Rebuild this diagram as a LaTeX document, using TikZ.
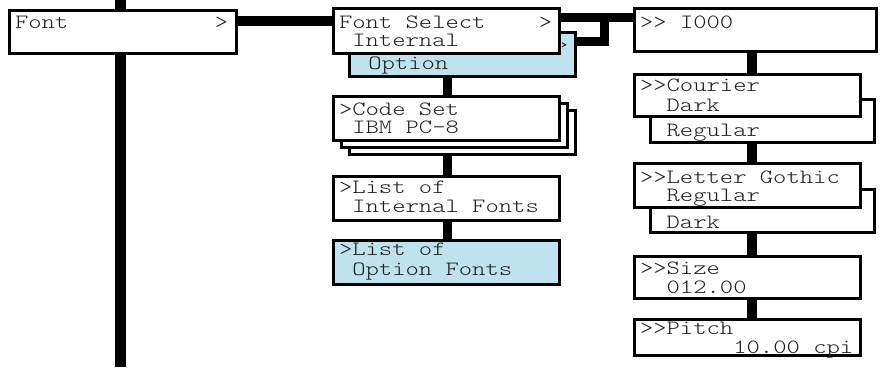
\documentclass[tikz,border=0pt]{standalone}
\usepackage{fontspec}
\newfontfamily\monofont{lmmonolt10-regular.otf}[FakeStretch=1.25]
\usetikzlibrary{calc}
\definecolor{optblue}{RGB}{191,227,238}
\definecolor{txtgray}{RGB}{30,30,30}
\newcommand\mybox[6][]{\node[boxst,#1,minimum width={#4-#2-3},minimum height={#5-#3-3}] (#6) at ({(#2+#4)/2},{(#3+#5)/2}) {};}
\tikzset{
  boxst/.style={draw=black,line width=3pt,fill=white,rectangle,inner sep=0pt,outer sep=0pt},
  bluebox/.style={fill=optblue},
  txt/.style={anchor=base west,inner sep=0pt,outer sep=0pt,text=txtgray,font=\monofont\fontsize{20.3}{19}\selectfont},
  bar/.style={line width=10pt,draw=black,line cap=butt,line join=miter},
}
\begin{document}
\begin{tikzpicture}[x=1pt,y=-1pt]
\def\a{13.33}
\useasboundingbox (0,0) rectangle (880,367);
% coordinates for connectors
\coordinate (ftop) at (120.5,0);
\coordinate (fbot) at (120.5,367);
\coordinate (ya) at (0,21);
\coordinate (yb) at (0,17);
\coordinate (jv) at (604,17);
\coordinate (jl) at (604,41.7);
\coordinate (mx) at (447.5,0);
\coordinate (rx) at (752,0);
% boxes (back ones first)
\mybox[bluebox]{348}{31}{577}{78}{opt}
\mybox{348}{109}{577}{156}{csc}
\mybox{340}{102}{569}{149}{csb}
\mybox{649}{98}{876}{144}{courb}
\mybox{649}{188}{876}{234}{lgb}
% connectors behind front boxes
\draw[bar,line width=11pt] (ftop) -- (fbot);
\draw[bar] (ya -| 237,0) -- (ya -| 333,0);
\draw[bar,line width=9pt] (yb -| 560,0) -- (yb -| 634,0);
\draw[bar,line width=9pt] (jl -| opt.east) -- (jl) -- (jv);
\draw[bar,line width=9pt] (mx |- opt.south) -- (mx |- 96,96);
\draw[bar,line width=9pt] (mx |- csc.south) -- (mx |- 176,176);
\draw[bar,line width=9pt] (mx |- 220,220) -- (mx |- 240,240);
\draw[bar] (rx |- 0,52) -- (rx |- 0,74);
\draw[bar] (rx |- courb.south) -- (rx |- 0,163);
\draw[bar] (rx |- lgb.south) -- (rx |- 0,256);
\draw[bar] (rx |- 0,299) -- (rx |- 0,319);
% front boxes
\mybox{8}{9}{238}{55}{fontb}
\mybox{332}{7}{561}{55}{fs}
\mybox{332}{95}{561}{142}{csa}
\mybox{332}{175}{561}{222}{li}
\mybox[bluebox]{332}{239}{561}{286}{lo}
\mybox{633}{7}{878}{53}{ioo}
\mybox{633}{73}{862}{118}{cour}
\mybox{633}{162}{862}{209}{lg}
\mybox{633}{255}{862}{300}{size}
\mybox{633}{318}{862}{357}{pitch}
% texts
\node[txt] (t1) at (15,28.3) {Font};
\node[txt] (t2) at ({15+15*\a},28.3) {>};
\node[txt] (t3) at (339,28.3) {Font Select};
\node[txt] (t4) at ({339+15*\a},28.3) {>};
\node[txt] (t5) at ({339+\a},46.7) {Internal};
\node[txt] (t7) at ({355+\a},69.3) {Option};
\node[txt] (t8) at (339,115) {>Code Set};
\node[txt] (t9) at ({339+\a},133.3) {IBM PC-8};
\node[txt] (t10) at (339,193.5) {>List of};
\node[txt] (t11) at ({339+\a},212) {Internal Fonts};
\node[txt] (t12) at (339,255) {>List of};
\node[txt] (t13) at ({339+\a},275) {Option Fonts};
\node[txt] (t14) at (640,28.3) {>>};
\node[txt] (t15) at ({640+3*\a},28.3) {I000};
\node[txt] (t16) at (640,91.7) {>>Courier};
\node[txt] (t17) at ({640+2*\a},111) {Dark};
\node[txt] (t18) at ({640+2*\a},136.7) {Regular};
\node[txt] (t19) at (640,183.3) {>>Letter Gothic};
\node[txt] (t20) at ({640+2*\a},201) {Regular};
\node[txt] (t21) at ({640+2*\a},228.3) {Dark};
\node[txt] (t22) at (640,274) {>>Size};
\node[txt] (t23) at ({640+2*\a},293.3) {012.00};
\node[txt] (t24) at (640,334.3) {>>Pitch};
\node[txt] (t25) at ({640+7*\a},353.3) {10.00 cpi};
% the '>' of the Option back box, visible only right of the front box
\begin{scope}
\clip (562.5,31) rectangle (577,78);
\node[txt] (t6) at ({355+15*\a},51) {>};
\end{scope}
\end{tikzpicture}
\end{document}
